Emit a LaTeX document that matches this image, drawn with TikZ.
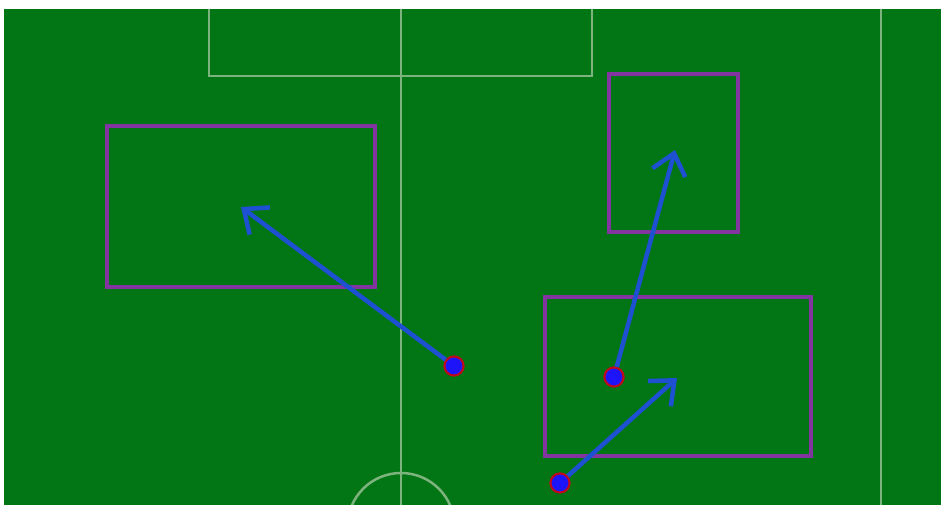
\documentclass[tikz,border=0pt]{standalone}
\usetikzlibrary{arrows.meta}
\definecolor{field}{RGB}{2,117,20}
\definecolor{fline}{RGB}{125,180,125}
\definecolor{zone}{RGB}{130,52,160}
\definecolor{arrowblue}{RGB}{30,80,210}
\definecolor{dotblue}{RGB}{30,20,250}
\definecolor{dotred}{RGB}{190,10,30}
\tikzset{
  fieldline/.style={draw=fline, line width=2.5pt},
  zonebox/.style={draw=zone, line width=4pt},
  player/.style={circle, fill=dotblue, draw=dotred, line width=2pt, minimum size=19pt, inner sep=0pt},
  move/.style={draw=arrowblue, line width=4.5pt, line cap=round, -{Straight Barb[length=20pt,width=34pt,line width=4.5pt]}}
}
\begin{document}
\begin{tikzpicture}[x=1pt,y=-1pt]
\useasboundingbox (0,0) rectangle (941,505);
\fill[field] (4,9) rectangle (941,505);
\begin{scope}
\clip (4,9) rectangle (941,505);
\draw[fieldline] (209,9) -- (209,76) -- (592,76) -- (592,9);
\draw[fieldline] (401,9) -- (401,505);
\draw[fieldline] (881,9) -- (881,505);
\draw[fieldline] (401,526.5) circle[radius=53.5];
\end{scope}
\draw[zonebox] (107,126) rectangle (375,287);
\draw[zonebox] (609,74) rectangle (738,232);
\draw[zonebox] (545,297) rectangle (811,456);
\node[player] (p1) at (454,366) {};
\node[player] (p2) at (614,377) {};
\node[player] (p3) at (560,483) {};
\coordinate (t1) at (241,207);
\coordinate (t2) at (675,150);
\coordinate (t3) at (677,378);
\draw[move] (p1.center) -- (t1);
\draw[move] (p2.center) -- (t2);
\draw[move] (p3.center) -- (t3);
\node[player] at (p1) {};
\node[player] at (p2) {};
\node[player] at (p3) {};
\end{tikzpicture}
\end{document}
